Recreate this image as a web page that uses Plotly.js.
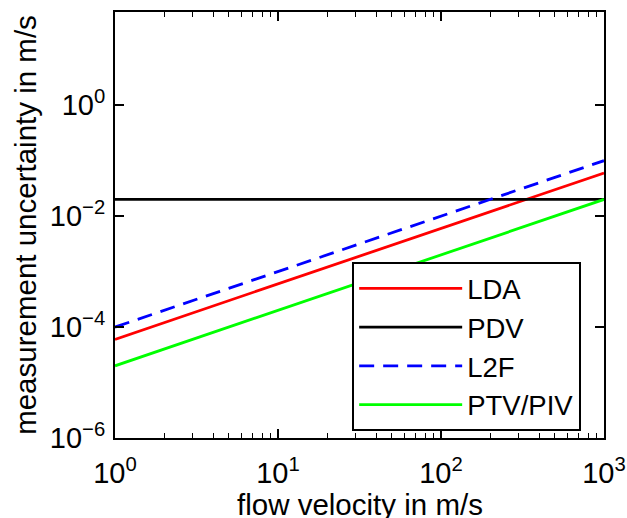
<!DOCTYPE html>
<html>
<head>
<meta charset="utf-8">
<script src="https://cdn.plot.ly/plotly-3.0.1.min.js"></script>
<style>html,body{margin:0;padding:0;background:#fff;}#chart{width:627px;height:518px;}</style>
</head>
<body>
<div id="chart"></div>
<script>
// Data (straight lines on log-log axes: end points)
const velocity = [1, 1000];
const ldaValues = [6e-5, 0.06];
const pdvValues = [0.02, 0.02];
const l2fValues = [1e-4, 0.1];
const ptvValues = [2e-5, 0.02];
const seriesNames = ['LDA', 'PDV', 'L2F', 'PTV/PIV'];
const xTitle = 'flow velocity in m/s';
const yTitle = 'measurement uncertainty in m/s';
const xTickVals = [1, 10, 100, 1000];
const xTickText = ['10<sup>0</sup>', '10<sup>1</sup>', '10<sup>2</sup>', '10<sup>3</sup>'];
const yTickVals = [1e-6, 1e-4, 1e-2, 1];
const yTickText = ['10<sup>\u22126</sup>', '10<sup>\u22124</sup>', '10<sup>\u22122</sup>', '10<sup>0</sup>'];

const minorX = [];
for (let d = 1; d < 1000; d *= 10) for (let k = 2; k <= 9; k++) minorX.push(k * d);

const font = {family: '"Liberation Sans", Arial, Helvetica, sans-serif', color: '#000'};

const traces = [
  {x: velocity, y: ldaValues, name: seriesNames[0], mode: 'lines', line: {color: '#ff0000', width: 2.8}},
  {x: velocity, y: pdvValues, name: seriesNames[1], mode: 'lines', line: {color: '#000000', width: 2.8}},
  {x: velocity, y: l2fValues, name: seriesNames[2], mode: 'lines', line: {color: '#0000ff', width: 2.8, dash: '15px,9px'}},
  {x: velocity, y: ptvValues, name: seriesNames[3], mode: 'lines', line: {color: '#00ff00', width: 2.8}}
];

const layout = {
  width: 627, height: 518,
  margin: {l: 115, r: 23, t: 12, b: 80},
  paper_bgcolor: '#fff', plot_bgcolor: '#fff',
  font: Object.assign({size: 29}, font),
  showlegend: true,
  xaxis: {
    type: 'log', range: [0, 3],
    tickmode: 'array', tickvals: xTickVals, ticktext: xTickText,
    ticks: 'inside', ticklen: 9, tickwidth: 1.5, tickcolor: '#000',
    ticklabelstandoff: 8,
    minor: {ticks: 'inside', ticklen: 5, tickwidth: 1, tickcolor: '#000', tickmode: 'array', tickvals: minorX},
    showline: true, linecolor: '#000', linewidth: 2, mirror: 'ticks',
    showgrid: false, zeroline: false,
    tickfont: Object.assign({size: 29}, font)
  },
  yaxis: {
    type: 'log', range: [-6, 1.68],
    tickmode: 'array', tickvals: yTickVals, ticktext: yTickText,
    ticks: 'inside', ticklen: 9, tickwidth: 1.5, tickcolor: '#000',
    ticklabelstandoff: 2,
    showline: true, linecolor: '#000', linewidth: 2, mirror: 'ticks',
    showgrid: false, zeroline: false,
    tickfont: Object.assign({size: 29}, font),
    title: {text: yTitle, font: Object.assign({size: 29.5}, font), standoff: 4}
  },
  annotations: [{
    text: xTitle, xref: 'paper', yref: 'paper', x: 0.5, y: -0.113,
    xanchor: 'center', yanchor: 'top', showarrow: false,
    font: Object.assign({size: 29.5}, font)
  }],
  legend: {
    x: 0.485, y: 0.413, xanchor: 'left', yanchor: 'top',
    bgcolor: '#fff', bordercolor: '#000', borderwidth: 2,
    font: Object.assign({size: 27.5}, font),
    itemwidth: 103, tracegroupgap: 0
  }
};

Plotly.newPlot('chart', traces, layout, {staticPlot: true, displayModeBar: false});
</script>
</body>
</html>
